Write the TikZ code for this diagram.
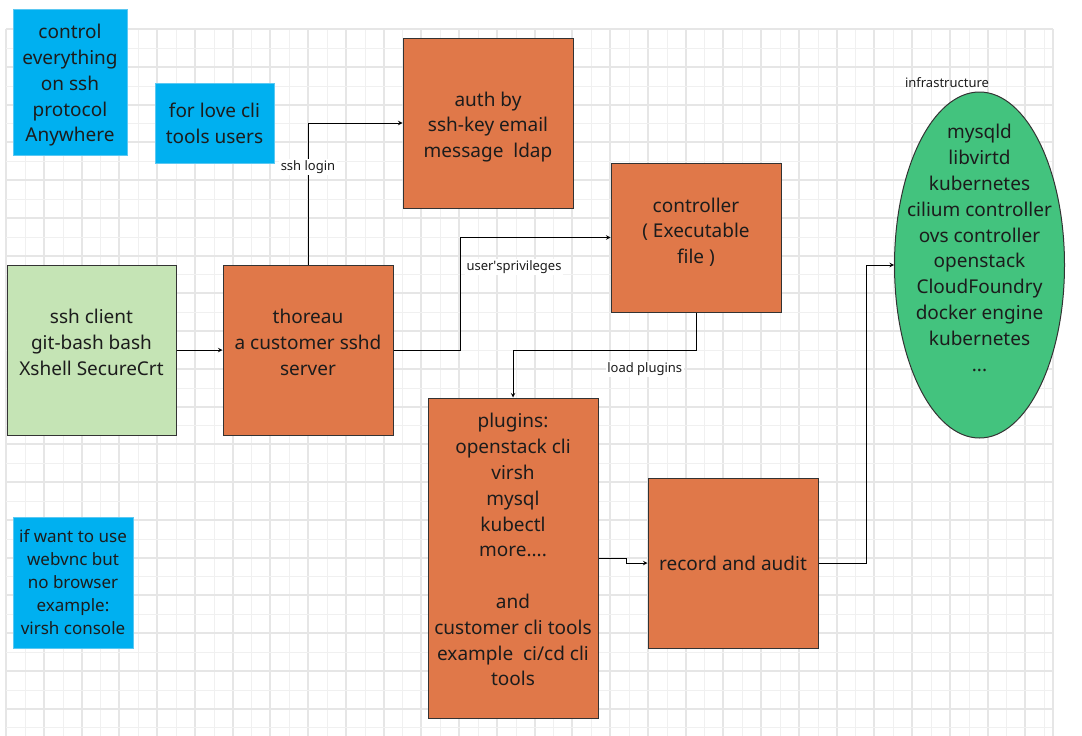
\documentclass[tikz,border=0pt]{standalone}
\usepackage{fontspec}
\setmainfont{Noto Sans}
\usetikzlibrary{arrows, positioning, shapes.geometric}
\definecolor{taskorange}{HTML}{E07849}
\definecolor{noteblue}{HTML}{00B0F0}
\definecolor{noteedge}{HTML}{5BC8F2}
\definecolor{clientgreen}{HTML}{C5E4B5}
\definecolor{infragreen}{HTML}{43C37E}
\definecolor{gridmajor}{HTML}{E6E6E6}
\definecolor{gridminor}{HTML}{F0F0F0}
\definecolor{inkdark}{HTML}{1C1C1C}
\newcommand{\boxfont}{\fontsize{19}{25.8}\selectfont}
\newcommand{\notefont}{\fontsize{17}{23}\selectfont}
\newcommand{\edgefont}{\fontsize{13}{16}\selectfont}
\tikzstyle{diredge}   = [line width=1pt, ->, >=stealth]
\tikzstyle{task}      = [draw=black!80, fill=taskorange, line width=1pt, minimum width=170pt, minimum height=170pt, inner sep=2pt, align=center, text=inkdark, font=\boxfont]
\tikzstyle{client}    = [task, fill=clientgreen]
\tikzstyle{note}      = [draw=noteedge, fill=noteblue, line width=0.8pt, inner sep=2pt, align=center, text=inkdark, font=\boxfont]
\tikzstyle{infra}     = [draw=black!80, fill=infragreen, line width=1pt, ellipse, minimum width=170pt, minimum height=346pt, inner sep=0pt]
\tikzstyle{edgelabel} = [fill=white, inner sep=1.5pt, text=inkdark, font=\edgefont]

\begin{document}
\begin{tikzpicture}[x=1pt, y=-1pt]
        \useasboundingbox (0,0) rectangle (1082,736);

        % Raster
        \foreach \i in {0,...,55} {
            \pgfmathsetmacro{\gx}{round(6+18.875*\i)}
            \ifodd\i
                \draw[gridminor, line width=1pt] (\gx+0.5,29) -- (\gx+0.5,736);
            \else
                \draw[gridmajor, line width=2pt] (\gx,29) -- (\gx,736);
            \fi
        }
        \foreach \j in {0,...,37} {
            \pgfmathsetmacro{\gy}{round(29+18.875*\j)}
            \ifodd\j
                \draw[gridminor, line width=1pt] (6,\gy+0.5) -- (1053,\gy+0.5);
            \else
                \draw[gridmajor, line width=2pt] (6,\gy) -- (1053,\gy);
            \fi
        }
        \draw[gridmajor, line width=2pt] (1053,29) -- (1053,736);

        % Notes
        \node[note, minimum width=114pt, minimum height=146pt]
            (anywhere) at (70,82)
            {control\\everything\\on ssh\\protocol\\Anywhere\\[-28pt]};

        \node[note, minimum width=119pt, minimum height=80pt]
            (cliusers) at (214.5,123)
            {for love cli\\tools users};

        \node[note, minimum width=120pt, minimum height=131pt, font=\notefont]
            (webvnc) at (73,582.5)
            {if want to use\\webvnc but\\no browser\\example:\\virsh console};

        % Boxes
        \node[client, minimum width=169pt]
            (client) at (91.5,350)
            {ssh client\\git-bash bash\\Xshell SecureCrt\\[-10pt]};

        \node[task]
            (thoreau) at (308,350)
            {thoreau\\a customer sshd\\server\\[-10pt]};

        \node[task]
            (auth) at (488,123)
            {auth by\\ssh-key email\\message\ \ ldap\\[-29pt]};

        \node[task, minimum height=149pt]
            (controller) at (696,237.5)
            {controller\\( Executable\\file )\\[-12pt]};

        \node[task, minimum height=320pt]
            (plugins) at (513,558)
            {plugins:\\openstack cli\\virsh\\mysql\\kubectl\\more....\\ \\and\\customer cli tools\\example\ \ ci/cd cli\\tools\\[-9pt]};

        \node[task]
            (record) at (733,563)
            {record and audit};

        % Infrastructure
        \node[infra]
            (infra) at (979.5,265)
            {};
        \node[align=center, text=inkdark, font=\boxfont]
            (infratext) at (979.5,248)
            {mysqld\\libvirtd\\kubernetes\\cilium controller\\ovs controller\\openstack\\CloudFoundry\\docker engine\\kubernetes\\...};
        \node[edgelabel, fill=none]
            (infralabel) at (947,83)
            {infrastructure};

        % Edges
        \draw[diredge]
            (client) -- (thoreau);

        \draw[diredge]
            (thoreau.north) |-
            node[edgelabel, pos=0.345] {ssh login}
            (auth.west);

        \draw[diredge]
            (thoreau.east) -- ++(67,0) |-
            node[edgelabel, pos=0.37, right=4pt] {user\textquotesingle sprivileges}
            (controller.west);

        \draw[diredge]
            (controller.south) -- ++(0,38) -|
            node[edgelabel, pos=0.14, below=10pt] {load plugins}
            (plugins.north);

        \draw[diredge]
            (plugins.east) -- ++(28,0) |- (record.west);

        \draw[diredge]
            (record.east) -- ++(48,0) |- (infra.west);

    \end{tikzpicture}
\end{document}
